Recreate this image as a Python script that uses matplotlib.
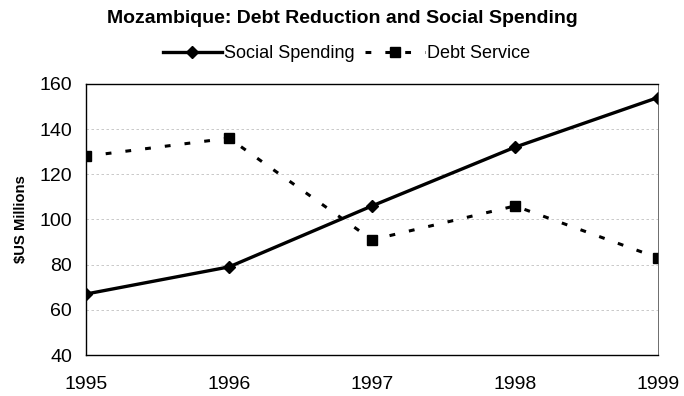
import matplotlib.pyplot as plt

plt.rcParams["font.family"] = ["Liberation Sans", "DejaVu Sans"]

years = [1995, 1996, 1997, 1998, 1999]
social_spending = [67, 79, 106, 132, 154]
debt_service = [128, 136, 91, 106, 83]
y_ticks = [40, 60, 80, 100, 120, 140, 160]

fig = plt.figure(figsize=(6.84, 3.96), dpi=100)
ax = fig.add_axes([0.1257, 0.1035, 0.8363, 0.6845])

ax.plot(years, social_spending, "-", color="black", linewidth=2.4,
        marker="D", markersize=6.5, label="Social Spending")
ax.plot(years, debt_service, color="black", linewidth=2.2,
        linestyle=(0, (1.9, 4.6)), marker="s", markersize=7,
        label="Debt Service")

ax.set_xlim(1995, 1999)
ax.set_ylim(40, 160)
ax.set_xticks(years)
ax.set_yticks(y_ticks)
ax.tick_params(axis="x", length=0, pad=15, labelsize=14)
ax.tick_params(axis="y", length=0, pad=10, labelsize=14)
ax.grid(axis="y", color="#c0c0c0", linestyle=(0, (3, 3)), linewidth=0.6)
for side in ax.spines.values():
    side.set_linewidth(1.0)
    side.set_color("black")
ax.spines["right"].set_linewidth(0.6)
ax.spines["right"].set_color("#555555")

ax.set_ylabel("$US Millions", fontsize=10.7, fontweight="bold")
ax.yaxis.set_label_coords(-0.101, 0.5)

fig.suptitle("Mozambique: Debt Reduction and Social Spending",
             fontsize=14, fontweight="bold", y=0.975)
ax.legend(loc="lower center", bbox_to_anchor=(0.455, 1.055), ncol=2,
          frameon=False, fontsize=13, handlelength=3.3,
          columnspacing=0.6, handletextpad=0.1, borderaxespad=0)

fig.savefig("out.png", dpi=100)
